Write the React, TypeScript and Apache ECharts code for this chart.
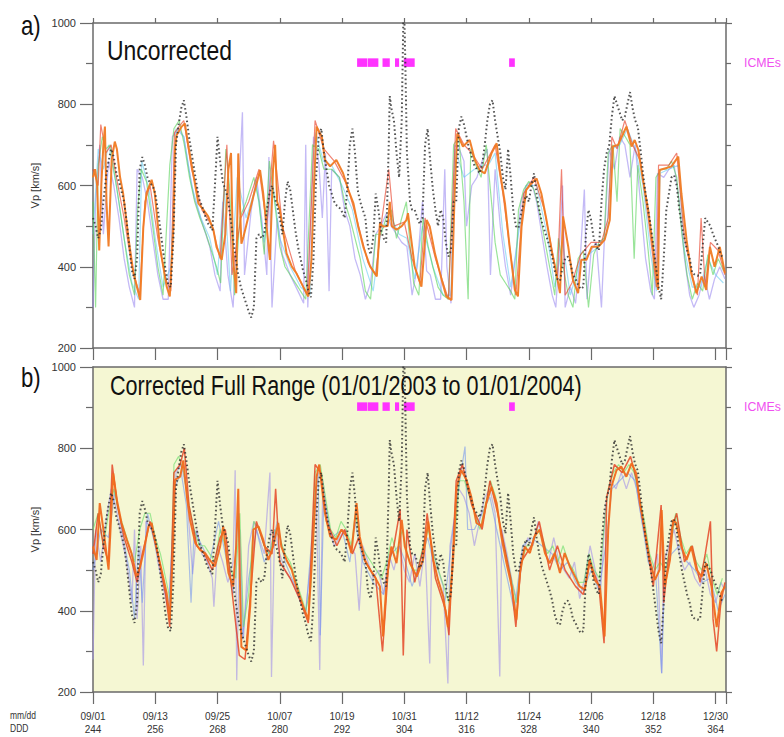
import React, { useEffect, useRef } from "react";
import * as echarts from "echarts";

type P = [number, number];

// X-axis tick labels (day of year 2003 -> mm/dd)
const tickDoy = [244, 256, 268, 280, 292, 304, 316, 328, 340, 352, 364];
const tickDate = ["09/01", "09/13", "09/25", "10/07", "10/19", "10/31", "11/12", "11/24", "12/06", "12/18", "12/30"];

// ICME intervals [start DOY, end DOY]
const icmes: P[] = [[294.9, 296.9], [297.0, 299.0], [299.8, 301.2], [302.2, 303.0], [303.9, 306.0], [324.2, 325.3]];
const icmeLevel: P = [892, 913];

// Observed solar wind speed (km/s) [DOY, Vp]
const obsVp: P[] = [
  [244.0,520],[244.5,500],[245.0,470],[245.5,490],[246.0,560],[246.5,620],[247.0,660],[247.5,690],[248.0,670],[248.5,630],
  [249.0,610],[249.5,585],[250.0,560],[250.5,510],[251.0,450],[251.5,390],[252.0,370],[252.5,420],[253.0,640],[253.5,670],
  [254.0,650],[254.5,620],[255.0,605],[255.5,600],[256.0,580],[256.5,540],[257.0,490],[257.5,440],[258.0,390],[258.5,355],
  [259.0,350],[259.5,470],[260.0,700],[260.5,750],[261.0,790],[261.5,810],[262.0,770],[262.5,720],[263.0,680],[263.5,640],
  [264.0,600],[264.5,565],[265.0,550],[265.5,530],[266.0,510],[266.5,500],[267.0,490],[267.5,600],[268.0,720],[268.5,660],
  [269.0,610],[269.5,590],[270.0,570],[270.5,520],[271.0,470],[271.5,420],[272.0,380],[272.5,350],[273.0,330],[273.5,310],
  [274.0,290],[274.5,275],[275.0,300],[275.5,470],[276.0,480],[276.5,470],[277.0,480],[277.5,540],[278.0,580],[278.5,600],
  [279.0,570],[279.5,550],[280.0,520],[280.5,480],[281.0,560],[281.5,610],[282.0,590],[282.5,540],[283.0,490],[283.5,450],
  [284.0,420],[284.5,390],[285.0,370],[285.5,340],[286.0,325],[286.5,420],[287.0,620],[287.5,720],[288.0,740],[288.5,680],
  [289.0,640],[289.5,600],[290.0,580],[290.5,560],[291.0,550],[291.5,545],[292.0,535],[292.5,520],[293.0,590],[293.5,700],
  [294.0,740],[294.5,680],[295.0,590],[295.5,560],[296.0,540],[296.5,520],[297.0,450],[297.5,430],[298.0,470],[298.5,580],
  [299.0,540],[299.5,490],[300.0,470],[300.5,460],[301.0,700],[301.2,820],[301.5,790],[302.0,760],[302.5,680],[303.0,620],
  [303.5,760],[303.9,1080],[304.2,900],[304.5,680],[304.9,600],[305.1,560],[305.5,540],[306.0,540],[306.5,520],[307.0,505],
  [307.5,520],[308.0,700],[308.5,740],[309.0,660],[309.5,590],[310.0,540],[310.5,500],[311.0,540],[311.5,520],[312.0,460],
  [312.5,425],[313.0,440],[313.5,560],[314.0,560],[314.5,740],[315.0,770],[315.5,750],[316.0,720],[316.5,690],[317.0,670],
  [317.5,650],[318.0,640],[318.5,630],[319.0,650],[319.5,700],[320.0,760],[320.5,800],[321.0,810],[321.5,760],[322.0,720],
  [322.5,680],[323.0,620],[323.5,590],[324.0,690],[324.5,620],[325.0,540],[325.5,500],[326.0,495],[326.5,530],[327.0,560],
  [327.5,575],[328.0,560],[328.5,600],[329.0,630],[329.5,580],[330.0,540],[330.5,510],[331.0,490],[331.5,470],[332.0,450],
  [332.5,425],[333.0,390],[333.5,370],[334.0,365],[334.5,400],[335.0,420],[335.5,425],[336.0,410],[336.5,380],[337.0,370],
  [337.5,355],[338.0,345],[338.5,350],[339.0,480],[339.5,540],[340.0,515],[340.5,470],[341.0,450],[341.5,440],[342.0,560],
  [342.5,640],[343.0,680],[343.5,700],[344.0,770],[344.5,820],[345.0,800],[345.5,780],[346.0,760],[346.5,770],[347.0,800],
  [347.5,830],[348.0,790],[348.5,760],[349.0,745],[349.5,690],[350.0,630],[350.5,580],[351.0,540],[351.5,500],[352.0,450],
  [352.5,400],[353.0,350],[353.5,320],[354.0,420],[354.5,540],[355.0,580],[355.5,620],[356.0,625],[356.5,600],[357.0,540],
  [357.5,500],[358.0,470],[358.5,440],[359.0,420],[359.5,385],[360.0,380],[360.5,378],[361.0,380],[361.5,450],[362.0,520],
  [362.5,510],[363.0,500],[363.5,480],[364.0,465],[364.5,450],[365.0,430],[365.5,420]
];

// Panel a: uncorrected forecast (main orange)
const uncorrMain: P[] = [
  [244.0,620],[244.4,640],[244.8,600],[245.2,440],[245.6,600],[246.0,700],[246.3,745],[246.6,560],[247.0,450],[247.6,663],
  [248.2,708],[248.6,690],[249.2,622],[249.8,581],[250.8,474],[251.8,384],[253.1,318],[253.7,499],[254.3,581],[255.3,614],
  [255.9,581],[256.9,449],[258.2,351],[258.8,327],[259.5,499],[259.8,690],[260.1,724],[261.1,745],[261.7,753],[262.4,696],
  [263.3,630],[264.3,556],[265.3,540],[266.2,524],[267.2,491],[267.8,449],[268.8,417],[269.5,480],[270.1,640],[270.6,680],
  [271.0,420],[271.6,335],[272.0,679],[272.3,560],[272.6,457],[273.0,474],[274.9,573],[276.2,638],[276.8,581],[278.1,417],
  [278.7,640],[279.1,700],[279.5,560],[280.0,540],[281.3,433],[282.3,401],[283.2,384],[284.5,351],[285.5,327],[286.1,417],
  [286.6,600],[287.1,745],[288.1,720],[288.7,663],[289.7,647],[290.9,663],[292.2,630],[293.2,589],[294.2,556],[295.1,499],
  [296.1,449],[297.4,401],[298.7,376],[299.3,507],[299.9,499],[300.8,500],[301.2,560],[301.6,500],[302.5,491],[303.5,500],
  [304.4,515],[304.7,532],[306.0,400],[307.3,351],[308.3,515],[308.9,499],[309.9,433],[311.2,368],[312.1,327],[313.1,318],
  [313.7,581],[314.2,728],[315.3,696],[316.6,712],[317.6,663],[318.5,638],[319.5,630],[320.8,679],[321.8,704],[322.4,638],
  [323.4,556],[324.3,449],[325.3,343],[325.9,327],[326.6,499],[327.5,589],[328.5,605],[329.5,617],[330.4,581],[331.4,515],
  [332.4,441],[333.3,384],[334.0,335],[334.6,524],[335.6,449],[336.5,368],[337.5,335],[338.1,417],[339.1,417],[340.1,449],
  [341.4,449],[342.6,466],[343.6,515],[344.2,696],[345.2,700],[346.2,728],[346.8,745],[347.8,696],[348.4,712],[349.1,688],
  [350.0,614],[351.0,540],[351.9,449],[352.9,343],[353.2,638],[354.2,642],[355.5,647],[356.8,671],[357.4,581],[358.4,466],
  [359.3,384],[360.3,335],[361.3,376],[362.2,343],[362.9,449],[363.8,400],[364.8,449],[365.8,384]
];

const uncorrGreen: P[] = [
  [244.0,560],[244.5,300],[245.0,650],[245.8,720],[246.5,690],[247.3,700],[248.0,640],[249.0,560],[250.0,470],[251.0,380],
  [252.0,330],[252.6,540],[253.3,640],[254.3,610],[255.3,520],[256.5,400],[257.5,330],[258.8,650],[259.6,740],[260.6,760],
  [261.6,700],[262.6,620],[263.6,560],[264.6,520],[265.8,480],[266.8,440],[267.8,400],[268.6,360],[269.6,690],[270.3,600],
  [271.3,330],[272.3,520],[273.5,560],[275.0,620],[276.0,560],[277.0,430],[278.0,660],[279.0,560],[280.0,450],[281.0,400],
  [282.5,370],[284.0,340],[285.0,320],[286.3,700],[287.5,690],[288.5,640],[290.0,640],[291.5,620],[292.5,560],[293.5,520],
  [294.5,470],[295.5,420],[296.5,340],[297.5,320],[298.5,480],[299.5,480],[300.5,520],[301.5,540],[302.5,470],[303.5,520],
  [304.4,560],[305.0,470],[305.8,360],[306.8,330],[307.6,520],[308.6,450],[309.5,400],[310.5,350],[311.5,330],[312.5,320],
  [313.5,700],[314.5,720],[315.5,560],[316.3,320],[316.8,690],[317.8,650],[318.8,620],[319.8,700],[320.8,560],[321.5,460],
  [322.5,380],[323.5,360],[324.5,340],[325.3,320],[326.0,540],[327.0,590],[328.0,610],[329.0,590],[330.0,540],[331.0,470],
  [332.0,400],[333.0,330],[333.7,470],[334.6,400],[335.6,330],[336.5,300],[337.5,420],[338.5,440],[339.5,300],[340.5,430],
  [341.5,460],[342.5,470],[343.3,680],[344.2,700],[345.0,560],[345.6,740],[346.6,720],[347.5,700],[348.3,420],[349.0,650],
  [350.0,560],[351.0,440],[351.8,330],[352.5,620],[353.5,640],[354.5,640],[355.5,660],[356.5,620],[357.5,480],[358.5,380],
  [359.5,320],[360.5,360],[361.5,340],[362.5,430],[363.5,380],[364.5,420],[365.5,390]
];

const uncorrLavender: P[] = [
  [244.0,300],[244.5,560],[245.3,700],[246.0,480],[247.0,660],[248.0,600],[249.0,520],[250.0,420],[251.0,350],[252.0,300],
  [252.5,640],[253.5,620],[254.5,560],[255.5,470],[256.5,380],[257.5,320],[258.5,320],[259.3,720],[260.5,740],[261.5,720],
  [262.5,640],[263.5,570],[264.5,530],[265.5,490],[266.5,450],[267.5,380],[268.5,340],[269.0,560],[270.0,380],[271.0,300],
  [272.0,560],[272.8,780],[273.2,380],[274.5,540],[275.5,620],[276.5,520],[277.5,380],[277.9,670],[278.5,300],[279.5,520],
  [280.5,430],[282.0,380],[283.5,340],[284.6,310],[285.0,700],[285.4,300],[286.5,720],[287.5,660],[288.2,520],[288.8,680],
  [289.5,340],[290.0,640],[291.5,620],[292.5,540],[293.5,500],[294.5,420],[295.5,380],[296.5,320],[297.5,360],[298.5,480],
  [299.5,500],[300.5,530],[301.5,500],[302.5,480],[303.5,460],[304.5,450],[305.5,330],[306.5,400],[307.5,560],[308.3,390],
  [309.0,380],[310.0,320],[311.0,320],[311.8,640],[312.2,400],[313.0,310],[313.7,700],[314.6,690],[315.5,660],[316.0,500],
  [317.0,600],[318.0,620],[319.0,660],[320.0,690],[320.6,380],[321.5,640],[322.5,500],[323.5,400],[324.5,330],[325.5,430],
  [326.5,560],[327.5,600],[328.5,610],[329.5,560],[330.5,480],[331.5,400],[332.5,330],[333.2,300],[333.8,420],[334.5,600],
  [335.0,300],[336.0,350],[337.0,310],[338.0,440],[338.7,590],[339.2,320],[340.0,440],[341.0,460],[342.0,300],[342.6,480],
  [343.5,690],[344.5,640],[345.5,720],[346.5,700],[347.5,620],[348.5,700],[349.5,560],[350.5,420],[351.5,340],[352.2,320],
  [352.8,630],[354.0,620],[355.0,640],[356.0,650],[357.0,560],[358.0,420],[359.0,330],[359.8,300],[360.8,330],[361.8,380],
  [362.8,320],[363.8,370],[364.8,400],[365.8,370]
];

const uncorrRed: P[] = [
  [244.0,640],[245.0,600],[245.5,750],[246.5,680],[247.5,700],[248.5,620],[250.0,520],[251.5,400],[253.0,330],[254.0,560],
  [255.0,600],[256.5,470],[258.0,370],[259.0,340],[259.7,730],[261.5,760],[263.0,640],[265.0,540],[267.0,500],[268.5,420],
  [269.8,700],[270.8,380],[272.5,520],[274.0,560],[276.0,640],[277.5,500],[278.8,710],[280.5,500],[283.0,390],[285.3,330],
  [286.8,760],[288.5,690],[290.5,660],[293.0,600],[295.0,510],[297.0,410],[298.5,380],[299.5,500],[301.0,640],[302.0,500],
  [304.0,510],[305.5,420],[307.0,360],[308.0,520],[310.0,420],[312.5,320],[313.9,740],[315.5,700],[317.0,680],[319.0,640],
  [321.5,700],[323.0,580],[325.5,330],[327.0,580],[329.0,620],[331.0,540],[333.5,370],[334.3,640],[335.0,330],[336.3,360],
  [338.0,430],[340.0,460],[342.0,460],[343.3,520],[344.0,720],[345.0,690],[346.5,760],[348.0,700],[349.5,660],[351.0,520],
  [352.6,350],[353.0,650],[355.0,650],[356.5,680],[358.0,470],[359.5,380],[360.5,330],[361.2,520],[362.0,350],[363.0,460],
  [364.5,440],[365.8,380]
];

const uncorrCyan: P[] = [
  [244.0,480],[245.0,690],[246.0,640],[247.0,700],[248.5,600],[250.0,470],[251.5,360],[252.8,320],[253.4,660],[254.8,590],
  [256.0,470],[257.5,350],[259.0,400],[260.0,740],[261.5,720],[263.0,600],[264.8,520],[266.5,470],[268.0,380],[269.3,600],
  [270.5,340],[271.8,620],[273.5,520],[275.5,600],[277.0,460],[278.5,620],[280.0,470],[282.0,400],[284.0,350],[285.8,330],
  [286.9,730],[288.4,660],[290.0,650],[292.0,600],[294.0,540],[296.0,420],[298.0,340],[299.5,490],[301.5,520],[303.0,480],
  [304.5,470],[306.0,370],[307.5,500],[309.5,400],[311.5,330],[313.0,330],[313.8,690],[315.5,620],[317.5,640],[319.0,650],
  [320.2,650],[321.5,680],[323.0,480],[324.5,350],[326.0,480],[327.5,600],[329.5,600],[331.5,480],[333.0,350],[334.5,460],
  [336.0,330],[337.8,410],[339.5,430],[341.5,450],[343.0,480],[344.0,690],[345.5,700],[347.0,740],[348.5,690],[350.0,600],
  [351.5,430],[352.6,340],[353.3,630],[355.0,640],[356.8,650],[358.0,440],[359.5,350],[361.0,350],[362.5,420],[364.0,380],
  [365.5,360]
];

// Panel b: corrected forecast (main orange-red)
const corrMain: P[] = [
  [244.0,558],[244.7,525],[245.3,665],[246.0,600],[247.0,501],[247.9,738],[248.6,673],[249.5,616],[250.5,575],[251.4,542],
  [252.4,484],[253.1,509],[253.7,542],[254.7,608],[255.3,616],[256.3,550],[257.2,501],[258.2,443],[258.8,378],[259.4,542],
  [259.8,722],[260.8,730],[261.4,770],[262.1,681],[262.7,624],[263.7,567],[264.6,550],[265.6,542],[266.5,525],[267.5,509],
  [268.5,558],[269.1,608],[270.1,493],[271.0,460],[271.6,560],[272.0,700],[272.3,480],[272.6,311],[273.6,302],[274.3,411],
  [274.9,600],[275.9,608],[276.8,575],[277.8,525],[278.7,558],[279.7,616],[280.3,558],[281.3,525],[282.3,501],[283.2,460],
  [284.5,411],[285.5,378],[286.1,501],[287.1,730],[287.6,760],[288.1,705],[288.7,640],[289.7,583],[290.9,575],[291.9,600],
  [292.9,583],[293.8,542],[294.8,665],[295.4,583],[296.4,525],[297.4,501],[298.3,484],[299.3,460],[299.9,337],[300.6,476],
  [301.5,558],[302.5,517],[303.5,624],[304.1,558],[305.1,517],[306.4,484],[307.6,525],[308.6,620],[309.6,525],[310.5,476],
  [311.5,435],[312.4,360],[313.4,525],[314.1,705],[315.0,746],[316.0,722],[316.9,681],[317.9,616],[318.9,608],[319.8,665],
  [320.8,705],[321.8,665],[322.7,583],[323.7,517],[324.7,460],[325.6,378],[326.3,493],[327.2,558],[328.2,542],[329.1,583],
  [330.1,600],[331.1,542],[332.0,517],[333.0,542],[334.0,493],[334.9,542],[335.9,509],[336.9,484],[337.8,460],[338.8,452],
  [339.7,525],[340.7,476],[341.7,460],[342.6,337],[343.3,600],[343.9,705],[344.9,746],[345.8,755],[346.8,730],[347.8,763],
  [348.7,738],[349.4,665],[350.3,600],[351.3,525],[352.3,476],[353.2,501],[353.6,648],[354.2,460],[355.2,525],[355.8,624],
  [356.4,616],[357.4,558],[358.4,525],[359.3,558],[360.3,501],[361.3,484],[362.2,517],[363.2,460],[364.2,360],[365.1,444],
  [365.8,460]
];

const corrLavender: P[] = [
  [244.0,280],[244.5,600],[245.5,520],[246.5,620],[247.5,700],[248.5,650],[249.5,580],[250.5,520],[251.5,420],[252.0,600],
  [252.5,380],[253.2,560],[253.7,265],[254.2,620],[255.5,600],[256.5,520],[257.5,460],[258.5,400],[259.3,560],[260.0,740],
  [261.0,760],[262.0,700],[262.8,560],[263.2,490],[264.0,600],[265.0,540],[266.0,520],[267.0,480],[267.3,410],[268.0,560],
  [269.0,520],[270.0,470],[271.0,520],[271.4,746],[271.7,229],[272.3,600],[273.0,330],[274.0,560],[275.0,620],[276.0,580],
  [277.0,540],[278.1,740],[278.4,237],[279.0,600],[280.0,540],[281.0,500],[282.5,470],[284.0,420],[285.0,400],[286.0,520],
  [287.0,700],[287.7,254],[288.3,720],[289.5,600],[290.5,560],[291.5,580],[292.5,600],[293.5,560],[294.5,540],[295.3,400],
  [296.0,560],[297.0,520],[298.0,480],[299.0,500],[300.0,440],[301.0,540],[302.0,500],[303.0,560],[304.0,500],[305.0,470],
  [306.0,540],[307.0,460],[308.0,560],[308.9,270],[309.3,560],[310.5,500],[311.5,460],[312.4,221],[312.8,560],[313.8,640],
  [314.5,700],[315.5,680],[316.5,640],[317.5,560],[318.5,620],[319.5,680],[320.5,700],[321.5,640],[322.4,238],[322.8,600],
  [323.8,540],[324.8,470],[325.8,420],[326.8,540],[327.8,580],[328.8,560],[329.8,620],[330.8,560],[331.8,520],[332.8,580],
  [333.8,520],[334.8,500],[335.8,480],[336.8,520],[337.8,430],[338.8,480],[339.8,560],[340.8,500],[341.8,440],[342.8,660],
  [343.8,720],[344.8,700],[345.8,740],[346.8,700],[347.8,740],[348.8,700],[349.8,620],[350.8,560],[351.8,500],[352.8,540],
  [353.6,246],[354.0,520],[355.0,560],[356.0,600],[357.0,540],[358.0,500],[359.0,520],[360.0,480],[361.0,460],[362.0,500],
  [363.0,440],[364.0,420],[365.0,470],[365.8,450]
];

const corrGreen: P[] = [
  [244.0,600],[245.0,640],[246.0,560],[247.0,640],[248.0,700],[249.0,640],[250.0,600],[251.0,560],[252.0,520],[253.0,600],
  [254.0,640],[255.0,640],[256.0,580],[257.0,540],[258.0,480],[259.0,420],[259.6,760],[260.5,780],[261.5,740],[262.5,660],
  [263.5,600],[264.5,560],[265.5,560],[266.5,540],[267.5,520],[268.5,600],[269.5,560],[270.5,500],[271.5,480],[272.3,640],
  [273.0,360],[274.0,440],[275.0,620],[276.0,600],[277.0,560],[278.0,540],[279.0,600],[280.0,580],[281.0,540],[282.0,520],
  [283.0,480],[284.0,440],[285.0,400],[286.0,460],[286.8,740],[287.8,760],[288.8,680],[289.8,600],[290.8,580],[291.8,620],
  [292.8,600],[293.8,560],[294.6,640],[295.6,560],[296.6,540],[297.6,520],[298.6,500],[299.6,480],[300.6,520],[301.6,580],
  [302.6,540],[303.6,600],[304.6,540],[305.6,500],[306.6,500],[307.6,560],[308.6,600],[309.6,540],[310.6,500],[311.6,460],
  [312.6,420],[313.6,560],[314.6,720],[315.6,720],[316.6,680],[317.6,640],[318.6,600],[319.6,660],[320.6,720],[321.6,680],
  [322.6,600],[323.6,540],[324.6,480],[325.6,420],[326.6,520],[327.6,560],[328.6,560],[329.6,600],[330.6,580],[331.6,540],
  [332.6,560],[333.6,520],[334.6,560],[335.6,520],[336.6,500],[337.6,470],[338.6,470],[339.6,540],[340.6,500],[341.6,480],
  [342.6,620],[343.3,700],[344.3,740],[345.3,760],[346.3,740],[347.3,760],[348.3,740],[349.3,680],[350.3,620],[351.3,540],
  [352.3,500],[353.3,520],[354.3,500],[355.3,560],[356.3,640],[357.3,580],[358.3,540],[359.3,560],[360.3,520],[361.3,500],
  [362.3,540],[363.3,480],[364.3,440],[365.3,480]
];

const corrRed: P[] = [
  [244.0,540],[245.0,640],[246.0,560],[247.0,520],[247.7,760],[248.7,660],[250.0,580],[251.5,520],[252.5,470],[253.5,540],
  [255.0,620],[256.5,540],[258.0,440],[258.8,360],[259.6,740],[260.8,760],[261.6,800],[262.5,660],[264.0,560],[265.5,540],
  [267.0,500],[268.5,580],[269.5,600],[270.5,480],[272.2,290],[273.3,280],[274.5,460],[275.5,620],[277.0,560],[278.5,540],
  [279.2,700],[280.0,520],[282.0,480],[283.8,430],[285.5,370],[286.8,760],[287.9,740],[289.0,620],[291.0,560],[292.5,600],
  [294.0,540],[295.2,580],[296.5,520],[298.5,480],[299.8,300],[301.0,520],[302.0,560],[303.2,650],[303.8,290],[304.5,600],
  [306.0,470],[307.8,560],[308.4,640],[310.0,480],[312.0,400],[312.6,340],[314.0,720],[315.2,760],[317.0,660],[319.0,600],
  [320.5,720],[322.0,640],[324.5,480],[325.5,360],[326.5,520],[328.5,560],[330.0,620],[332.0,500],[333.5,560],[335.0,500],
  [337.0,460],[338.5,440],[339.8,520],[341.5,460],[342.5,320],[343.0,680],[344.5,760],[346.0,740],[347.6,780],[348.8,720],
  [350.5,580],[352.0,460],[353.5,660],[354.0,420],[355.5,600],[356.5,640],[358.0,520],[359.5,560],[361.0,470],[362.0,540],
  [363.0,620],[363.5,380],[364.2,300],[365.0,420],[365.8,470]
];

const corrBlue: P[] = [
  [244.0,500],[245.5,600],[247.0,580],[248.3,700],[249.5,600],[251.0,500],[252.0,380],[252.8,560],[253.5,420],[254.5,640],
  [256.0,560],[257.5,480],[258.6,400],[259.7,700],[261.0,740],[262.0,660],[262.9,420],[263.5,600],[265.0,560],[266.5,520],
  [268.2,620],[269.5,540],[271.0,440],[272.0,640],[272.8,330],[274.0,480],[275.5,600],[277.0,520],[278.5,560],[279.5,620],
  [281.0,520],[283.0,460],[285.0,390],[286.3,600],[287.4,740],[287.8,340],[288.5,680],[290.0,580],[292.0,600],[293.5,520],
  [294.5,620],[296.0,520],[298.0,470],[300.0,440],[301.5,540],[303.0,560],[304.2,520],[305.5,460],[307.0,520],[308.5,580],
  [310.0,500],[311.8,420],[313.0,560],[314.2,680],[315.7,804],[316.2,600],[317.5,600],[319.0,640],[320.5,680],[321.8,600],
  [323.5,500],[325.2,400],[326.8,560],[328.5,580],[330.5,560],[332.5,540],[334.0,500],[335.5,520],[337.0,470],[338.5,450],
  [340.0,500],[341.5,450],[342.8,560],[344.0,700],[345.5,720],[347.0,740],[348.5,720],[349.8,620],[351.0,520],[352.5,480],
  [353.6,246],[354.2,500],[355.5,540],[357.0,560],[358.5,520],[360.0,500],[361.5,470],[363.0,480],[364.5,400],[365.8,440]
];

const SANS = "'Liberation Sans', Arial, sans-serif";
const AX = "#6a6a6a";

function line(data: P[], color: string, width: number, opacity: number, xi: number, yi: number, z: number) {
  return {
    type: "line", data, xAxisIndex: xi, yAxisIndex: yi, showSymbol: false, symbol: "none",
    lineStyle: { color, width, opacity }, z, silent: true, clip: true,
  };
}

function obsSeries(xi: number, yi: number) {
  return {
    type: "line", data: obsVp, xAxisIndex: xi, yAxisIndex: yi, showSymbol: false, symbol: "none", silent: true, clip: true,
    lineStyle: { color: "#2a2a2a", width: 2, opacity: 0.8, type: [1.6, 2.6] }, z: 5,
  };
}

function xAxes(gridIndex: number, labels: boolean): any[] {
  const base = { type: "value", gridIndex, min: 244, max: 366, interval: 12, splitLine: { show: false } };
  return [
    {
      ...base, position: "bottom",
      axisLine: { show: true, lineStyle: { color: AX, width: 1.5 } },
      axisTick: { show: true, inside: false, length: 12, lineStyle: { color: AX, width: 1.2 } },
      axisLabel: labels
        ? {
            show: true, interval: 0, margin: 18, fontSize: 10, lineHeight: 13, color: "#333", fontFamily: SANS,
            showMaxLabel: true, showMinLabel: true,
            formatter: (v: number) => {
              const i = tickDoy.indexOf(Math.round(v));
              return i < 0 ? "" : `${tickDate[i]}\n${tickDoy[i]}`;
            },
          }
        : { show: false },
    },
    {
      ...base, position: "top",
      axisLine: { show: true, lineStyle: { color: AX, width: 1.5 } },
      axisTick: { show: gridIndex === 0, inside: false, length: 5, lineStyle: { color: AX, width: 1.2 } },
      axisLabel: { show: false },
    },
  ];
}

function yAxes(gridIndex: number): any[] {
  const base = { type: "value", gridIndex, min: 200, max: 1000, interval: 200, splitLine: { show: false }, minorSplitLine: { show: false } };
  return [
    {
      ...base, position: "left", name: "Vp [km/s]", nameLocation: "middle", nameGap: 52,
      nameTextStyle: { fontSize: 11, color: "#333", fontFamily: SANS },
      axisLine: { show: true, lineStyle: { color: AX, width: 1.5 } },
      axisTick: { show: true, inside: false, length: 13, lineStyle: { color: AX, width: 1.2 } },
      minorTick: { show: true, splitNumber: 2, length: 7, lineStyle: { color: AX, width: 1.2 } },
      axisLabel: { show: true, fontSize: 11, color: "#333", fontFamily: SANS, margin: 17, formatter: (v: number) => String(v) },
    },
    {
      ...base, position: "right",
      axisLine: { show: true, lineStyle: { color: AX, width: 1.5 } },
      axisTick: { show: true, inside: false, length: 6, lineStyle: { color: AX, width: 1.2 } },
      minorTick: { show: true, splitNumber: 2, length: 5, lineStyle: { color: AX, width: 1.2 } },
      axisLabel: { show: false },
    },
  ];
}

function icmeSeries(xi: number, yi: number) {
  return {
    type: "line", data: [], xAxisIndex: xi, yAxisIndex: yi, silent: true,
    markArea: {
      silent: true,
      itemStyle: { color: "#ff33ff", opacity: 1 },
      data: icmes.map(([s, e]) => [{ xAxis: s, yAxis: icmeLevel[0] }, { xAxis: e, yAxis: icmeLevel[1] }]),
    },
    z: 6,
  };
}

function narrowText(text: string, x: number, y: number, fontSize: number, fill: string, sx = 0.82) {
  return {
    type: "text", x, y, scaleX: sx, z: 10,
    style: { text, fontSize, fontFamily: SANS, fill, verticalAlign: "top", align: "left" },
  };
}

export default function App() {
  const ref = useRef<HTMLDivElement>(null);
  useEffect(() => {
    document.body.style.margin = "0";
    const chart = echarts.init(ref.current!, undefined, { renderer: "svg" });
    const option: any = {
      animation: false,
      backgroundColor: "#ffffff",
      grid: [
        { left: 93, top: 23, width: 633, height: 325, show: false },
        { left: 93, top: 367, width: 633, height: 325, show: true, backgroundColor: "#f5f7d3", borderWidth: 0 },
      ],
      xAxis: [...xAxes(0, false), ...xAxes(1, true)],
      yAxis: [...yAxes(0), ...yAxes(1)],
      series: [
        line(uncorrLavender, "#9d8cf0", 1.3, 0.6, 0, 0, 2),
        line(uncorrCyan, "#5cc8f0", 1.2, 0.55, 0, 0, 2),
        line(uncorrGreen, "#55d255", 1.2, 0.6, 0, 0, 2),
        line(uncorrRed, "#e8402a", 1.2, 0.65, 0, 0, 3),
        line(uncorrMain, "#f07a22", 2, 0.95, 0, 0, 4),
        obsSeries(0, 0),
        icmeSeries(0, 0),

        line(corrLavender, "#a898e8", 1.3, 0.65, 2, 2, 2),
        line(corrBlue, "#6a8ef0", 1.2, 0.55, 2, 2, 2),
        line(corrGreen, "#66dd66", 1.2, 0.6, 2, 2, 2),
        line(corrRed, "#e33b1c", 1.5, 0.8, 2, 2, 3),
        line(corrMain, "#f06a1c", 2, 0.95, 2, 2, 4),
        obsSeries(2, 2),
        icmeSeries(2, 2),
      ],
      graphic: [
        narrowText("a)", 21, 12, 27, "#111"),
        narrowText("b)", 21, 364, 27, "#111"),
        narrowText("Uncorrected", 107, 37, 27, "#111", 0.85),
        narrowText("Corrected Full Range (01/01/2003 to 01/01/2004)", 110, 372, 27, "#111", 0.8),
        narrowText("ICMEs", 744, 56, 13, "#f050f0", 0.95),
        narrowText("ICMEs", 744, 400, 13, "#f050f0", 0.95),
        narrowText("mm/dd", 10, 711, 10, "#333", 0.85),
        narrowText("DDD", 10, 724, 10, "#333", 0.85),
      ],
    };
    chart.setOption(option);
    return () => chart.dispose();
  }, []);
  return <div ref={ref} style={{ width: 784, height: 737 }} />;
}
